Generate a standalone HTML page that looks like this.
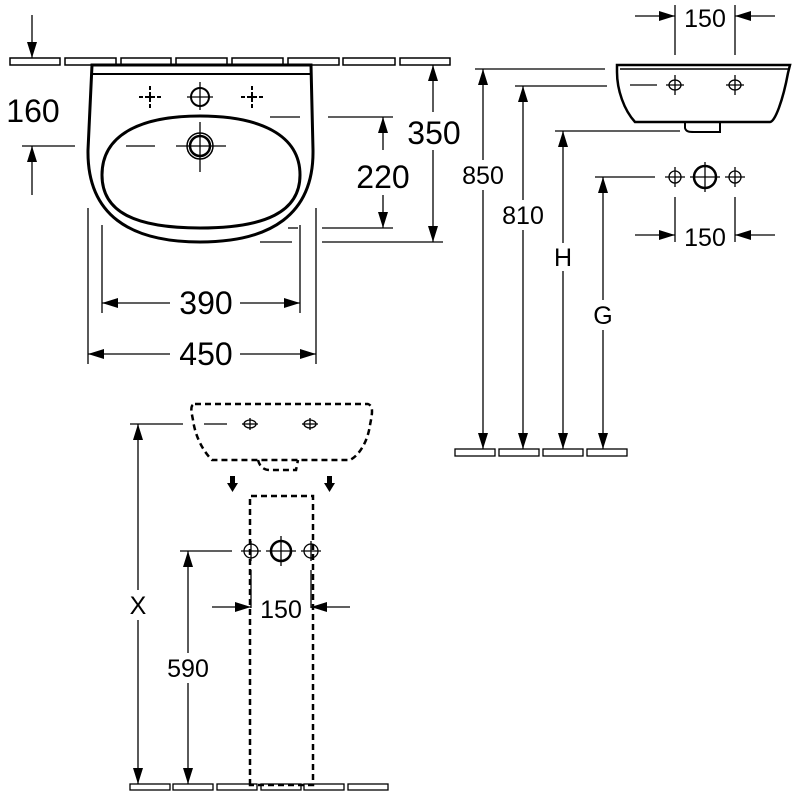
<!DOCTYPE html>
<html><head><meta charset="utf-8"><style>
html,body{margin:0;padding:0;background:#fff;}
svg{display:block;}
text{font-family:"Liberation Sans",Arial,sans-serif;fill:#000;}
</style></head><body>
<svg width="800" height="800" viewBox="0 0 800 800" xmlns="http://www.w3.org/2000/svg">
<defs>
<marker id="a" viewBox="0 0 16 10" refX="16" refY="5" markerWidth="16" markerHeight="10" markerUnits="userSpaceOnUse" orient="auto-start-reverse"><path d="M0,0 L16,5 L0,10 Z" fill="#000"/></marker>
</defs>
<g fill="none" stroke="#000" stroke-width="1.5">
<rect x="10" y="58" width="50" height="7"/><rect x="65" y="58" width="51" height="7"/><rect x="121" y="58" width="50" height="7"/><rect x="176" y="58" width="51" height="7"/><rect x="232" y="58" width="51" height="7"/><rect x="288" y="58" width="51" height="7"/><rect x="343" y="58" width="52" height="7"/><rect x="400" y="58" width="50" height="7"/>
</g>
<g fill="none" stroke="#000">
<path d="M92,65 L311,65 L313,150 C314,215 270,242 200,242 C130,242 87,215 88,150 Z" stroke-width="3"/>
<line x1="93" y1="74" x2="310" y2="74" stroke-width="2"/>
<path d="M200,116 C260,116 300,135 300,175 C300,212 265,228 200,228 C135,228 102,212 102,175 C102,135 140,116 200,116 Z" stroke-width="3"/>
<circle cx="200" cy="146" r="13" stroke-width="1.5"/><circle cx="200" cy="146" r="10" stroke-width="2.5"/>
<g stroke-width="1.3"><line x1="176" y1="146" x2="226" y2="146"/><line x1="200" y1="122" x2="200" y2="172"/>
<line x1="126" y1="146" x2="155" y2="146"/><line x1="22" y1="146" x2="75" y2="146"/>
<circle cx="200" cy="97" r="9" stroke-width="2"/><line x1="187" y1="97" x2="213" y2="97"/><line x1="200" y1="82" x2="200" y2="110"/>
</g>
<g stroke-width="2">
<path d="M145,97h10M150,92v10M139,97h4M157,97h4M150,86v4M150,104v4"/>
<path d="M247,97h10M252,92v10M241,97h4M259,97h4M252,86v4M252,104v4"/>
</g>
</g>
<g fill="none" stroke="#000" stroke-width="1.3">
<line x1="32" y1="15" x2="32" y2="58" marker-end="url(#a)"/>
<line x1="32" y1="195" x2="32" y2="146" marker-end="url(#a)"/>
<line x1="433" y1="112" x2="433" y2="65" marker-end="url(#a)"/>
<line x1="433" y1="150" x2="433" y2="242" marker-end="url(#a)"/>
<line x1="322" y1="242" x2="443" y2="242"/>
<line x1="260" y1="242" x2="292" y2="242"/>
<line x1="383" y1="150" x2="383" y2="117" marker-end="url(#a)"/>
<line x1="383" y1="195" x2="383" y2="228" marker-end="url(#a)"/>
<line x1="270" y1="117" x2="300" y2="117"/><line x1="328" y1="117" x2="393" y2="117"/>
<line x1="322" y1="228" x2="393" y2="228"/><line x1="288" y1="228" x2="298" y2="228"/>
<line x1="102" y1="225" x2="102" y2="313"/><line x1="300" y1="225" x2="300" y2="313"/>
<line x1="88" y1="208" x2="88" y2="364"/><line x1="316" y1="208" x2="316" y2="364"/>
<line x1="170" y1="303" x2="102" y2="303" marker-end="url(#a)"/>
<line x1="240" y1="303" x2="300" y2="303" marker-end="url(#a)"/>
<line x1="170" y1="354" x2="88" y2="354" marker-end="url(#a)"/>
<line x1="240" y1="354" x2="316" y2="354" marker-end="url(#a)"/>
</g>
<text x="33" y="122" font-size="32" text-anchor="middle">160</text>
<text x="434" y="144" font-size="32" text-anchor="middle">350</text>
<text x="383" y="188" font-size="32" text-anchor="middle">220</text>
<text x="206" y="314" font-size="32" text-anchor="middle">390</text>
<text x="206" y="365" font-size="32" text-anchor="middle">450</text>

<g fill="none" stroke="#000">
<path d="M617,65 L790,65 L788,73 C783,100 775,122 770,122 L635,122 C624,110 617,90 617,72 Z" stroke-width="2.5"/>
<line x1="620" y1="69" x2="788" y2="69" stroke-width="1.5"/>
<path d="M685,122 L685,128 C686,132 690,132 694,132 L720,132 L720,122" stroke-width="2"/>
<g stroke-width="1.3">
<ellipse cx="675" cy="85" rx="6" ry="5"/><ellipse cx="735" cy="85" rx="6" ry="5"/>
<line x1="666" y1="85" x2="684" y2="85"/><line x1="675" y1="75" x2="675" y2="95"/>
<line x1="726" y1="85" x2="744" y2="85"/><line x1="735" y1="75" x2="735" y2="95"/>
<line x1="630" y1="85" x2="657" y2="85"/>
<line x1="675" y1="5" x2="675" y2="55"/><line x1="735" y1="5" x2="735" y2="55"/>
<line x1="635" y1="16" x2="675" y2="16" marker-end="url(#a)"/>
<line x1="775" y1="16" x2="735" y2="16" marker-end="url(#a)"/>
<circle cx="675" cy="177" r="6"/><circle cx="735" cy="177" r="6"/>
<circle cx="705" cy="177" r="11" stroke-width="2.5"/>
<line x1="665" y1="177" x2="685" y2="177"/><line x1="675" y1="167" x2="675" y2="187"/>
<line x1="725" y1="177" x2="745" y2="177"/><line x1="735" y1="167" x2="735" y2="187"/>
<line x1="690" y1="177" x2="720" y2="177"/><line x1="705" y1="162" x2="705" y2="192"/>
<line x1="675" y1="197" x2="675" y2="242"/><line x1="735" y1="197" x2="735" y2="242"/>
<line x1="635" y1="235" x2="675" y2="235" marker-end="url(#a)"/>
<line x1="775" y1="235" x2="735" y2="235" marker-end="url(#a)"/>
<line x1="475" y1="69" x2="605" y2="69"/>
<line x1="515" y1="86" x2="607" y2="86"/>
<line x1="555" y1="131" x2="680" y2="131"/>
<line x1="595" y1="177" x2="655" y2="177"/>
<line x1="483" y1="160" x2="483" y2="69" marker-end="url(#a)"/><line x1="483" y1="190" x2="483" y2="449" marker-end="url(#a)"/>
<line x1="523" y1="200" x2="523" y2="86" marker-end="url(#a)"/><line x1="523" y1="230" x2="523" y2="449" marker-end="url(#a)"/>
<line x1="563" y1="243" x2="563" y2="131" marker-end="url(#a)"/><line x1="563" y1="271" x2="563" y2="449" marker-end="url(#a)"/>
<line x1="603" y1="300" x2="603" y2="177" marker-end="url(#a)"/><line x1="603" y1="330" x2="603" y2="449" marker-end="url(#a)"/>
<rect x="455" y="449" width="40" height="7"/><rect x="499" y="449" width="40" height="7"/><rect x="543" y="449" width="40" height="7"/><rect x="587" y="449" width="40" height="7"/>
</g>
</g>
<text x="705" y="27" font-size="25" text-anchor="middle">150</text>
<text x="705" y="246" font-size="25" text-anchor="middle">150</text>
<text x="483" y="184" font-size="25" text-anchor="middle">850</text>
<text x="523" y="224" font-size="25" text-anchor="middle">810</text>
<text x="563" y="266" font-size="25" text-anchor="middle">H</text>
<text x="603" y="324" font-size="25" text-anchor="middle">G</text>

<g fill="none" stroke="#000">
<g stroke-width="2.5" stroke-dasharray="6,4">
<path d="M195,404 L368,404 C374,406 372,415 370,425 C368,440 360,455 350,460 L212,460 C202,450 195,435 193,420 C191,410 190,405 195,404 Z"/>
<path d="M258,460 C260,468 265,470 270,470 L296,470 L298,460"/>
<path d="M250,785 L250,496 L313,496 L313,785 Z"/>
</g>
<g stroke-width="1.3">
<ellipse cx="250" cy="424" rx="6" ry="4"/><ellipse cx="310" cy="424" rx="6" ry="4"/>
<line x1="242" y1="424" x2="258" y2="424"/><line x1="250" y1="418" x2="250" y2="430"/>
<line x1="302" y1="424" x2="318" y2="424"/><line x1="310" y1="418" x2="310" y2="430"/>
<line x1="130" y1="424" x2="183" y2="424"/><line x1="204" y1="424" x2="227" y2="424"/>
<circle cx="251" cy="551" r="7"/><circle cx="311" cy="551" r="7"/>
<circle cx="281" cy="551" r="10" stroke-width="2.5"/>
<line x1="241" y1="551" x2="261" y2="551"/><line x1="251" y1="541" x2="251" y2="561"/>
<line x1="301" y1="551" x2="321" y2="551"/><line x1="311" y1="541" x2="311" y2="561"/>
<line x1="266" y1="551" x2="296" y2="551"/><line x1="281" y1="536" x2="281" y2="566"/>
<line x1="180" y1="551" x2="232" y2="551"/>
<line x1="251" y1="570" x2="251" y2="608"/><line x1="311" y1="570" x2="311" y2="608"/>
<line x1="212" y1="607" x2="251" y2="607" marker-end="url(#a)"/>
<line x1="350" y1="607" x2="311" y2="607" marker-end="url(#a)"/>
<line x1="138" y1="590" x2="138" y2="424" marker-end="url(#a)"/><line x1="138" y1="620" x2="138" y2="784" marker-end="url(#a)"/>
<line x1="188" y1="653" x2="188" y2="551" marker-end="url(#a)"/><line x1="188" y1="683" x2="188" y2="784" marker-end="url(#a)"/>
<rect x="130" y="784" width="40" height="6"/><rect x="173" y="784" width="40" height="6"/><rect x="217" y="784" width="40" height="6"/><rect x="261" y="784" width="40" height="6"/><rect x="304" y="784" width="40" height="6"/><rect x="348" y="784" width="40" height="6"/>
</g>
</g>
<g fill="#000">
<rect x="230" y="476" width="5" height="8"/><path d="M227,483 L238,483 L232.5,492 Z"/>
<rect x="327" y="476" width="5" height="8"/><path d="M324,483 L335,483 L329.5,492 Z"/>
</g>
<text x="138" y="614" font-size="25" text-anchor="middle">X</text>
<text x="188" y="677" font-size="25" text-anchor="middle">590</text>
<text x="281" y="618" font-size="25" text-anchor="middle">150</text>
</svg>
</body></html>
